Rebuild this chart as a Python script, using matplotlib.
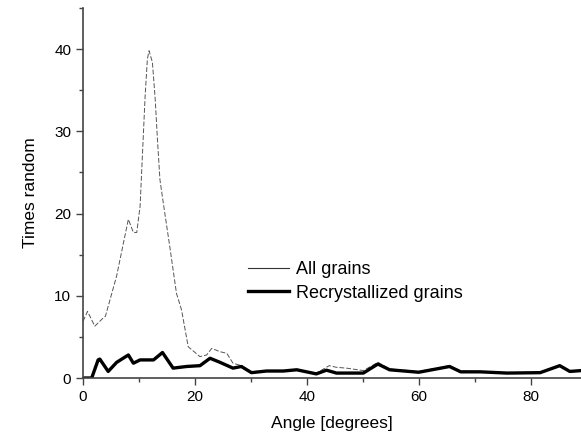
import matplotlib
matplotlib.use("Agg")
import matplotlib.pyplot as plt
from matplotlib.lines import Line2D
from matplotlib.ticker import MultipleLocator

plt.rcParams['font.family'] = ['Liberation Sans', 'DejaVu Sans']

all_angle = [0, 0.8, 2.1, 3.6, 4.0, 6.0, 8.1, 9.0, 9.6, 10.2, 10.5, 11.1, 11.5, 11.8,
             12.4, 12.9, 13.3, 13.75, 14.3, 15.5, 16.7, 17.6, 18.8, 20.9, 22.1, 23.0,
             24.5, 25.7, 26.8, 28.3, 30.1, 32.8, 35.8, 38.2, 41.7, 44.0, 45.3, 47.1,
             50.1, 52.7, 54.8, 60.0, 65.5, 67.5, 71.0, 75.8, 81.7, 85.2, 87.0, 89.0]
all_value = [6.9, 8.1, 6.3, 7.3, 7.5, 12.4, 19.3, 17.7, 17.7, 20.9, 25.4, 34.3, 38.8, 39.8,
             38.4, 33.9, 29.0, 24.1, 21.5, 16.0, 10.3, 8.3, 3.8, 2.6, 2.8, 3.6,
             3.2, 3.0, 1.8, 1.5, 0.75, 0.9, 0.9, 1.05, 0.6, 1.5, 1.3, 1.2,
             0.9, 1.9, 1.1, 0.8, 1.5, 0.85, 0.8, 0.65, 0.7, 1.55, 0.85, 0.95]

rec_angle = [0, 1.55, 2.7, 3.0, 4.5, 6.0, 8.1, 9.0, 10.2, 12.6, 14.2, 16.1, 18.5, 20.9,
             22.7, 24.5, 26.8, 28.3, 30.1, 32.8, 35.8, 38.2, 41.7, 43.5, 45.3, 50.1,
             52.7, 54.8, 60.0, 65.5, 67.5, 71.0, 75.8, 81.7, 85.2, 87.0, 89.0]
rec_value = [0, 0, 2.2, 2.3, 0.8, 1.9, 2.8, 1.8, 2.2, 2.2, 3.1, 1.2, 1.4, 1.5,
             2.4, 1.9, 1.2, 1.4, 0.65, 0.85, 0.85, 1.0, 0.5, 0.95, 0.6, 0.6,
             1.7, 1.0, 0.7, 1.4, 0.75, 0.75, 0.6, 0.65, 1.5, 0.8, 0.9]

x_ticks = [0, 20, 40, 60, 80]
y_ticks = [0, 10, 20, 30, 40]

fig = plt.figure(figsize=(5.81, 4.37), dpi=100)
ax = fig.add_axes([0.1429, 0.135, 0.8571, 0.8467])

ax.plot(all_angle, all_value, color='#555555', lw=0.7, ls=(0, (5, 2)))
ax.plot(rec_angle, rec_value, color='black', lw=2.4)

ax.set_xlim(0, 89)
ax.set_ylim(0, 45)
ax.set_xticks(x_ticks)
ax.set_yticks(y_ticks)
ax.xaxis.set_minor_locator(MultipleLocator(10))
ax.yaxis.set_minor_locator(MultipleLocator(5))
for s in ['top', 'right']:
    ax.spines[s].set_visible(False)
for s in ['left', 'bottom']:
    ax.spines[s].set_color('#444444')
    ax.spines[s].set_linewidth(1.2)
ax.tick_params(which='major', direction='out', length=5, width=1.0, color='#444444',
               labelsize=11)
ax.tick_params(which='minor', direction='out', length=3, width=1.0, color='#444444')

ax.set_xlabel('Angle [degrees]', fontsize=12.5, labelpad=9)
ax.set_ylabel('Times random', fontsize=12.5, labelpad=12)

handles = [Line2D([], [], color='#333333', lw=0.8),
           Line2D([], [], color='black', lw=2.4)]
ax.legend(handles, ['All grains', 'Recrystallized grains'], frameon=False,
          loc='upper left', bbox_to_anchor=(0.314, 0.34), fontsize=13,
          handlelength=2.25, handletextpad=0.4, labelspacing=0.35, borderpad=0)

fig.savefig('out.png', dpi=100)
